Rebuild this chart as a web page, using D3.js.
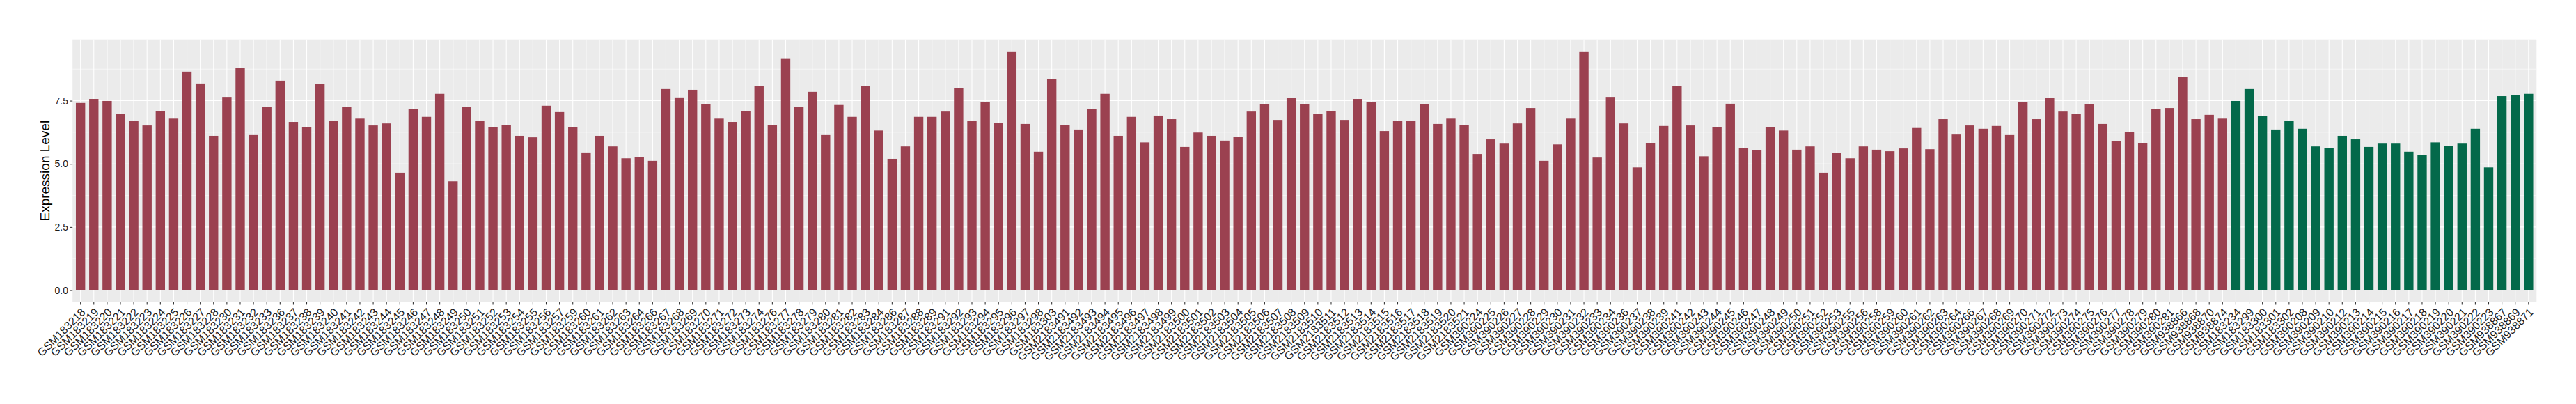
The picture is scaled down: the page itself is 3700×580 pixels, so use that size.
<!DOCTYPE html>
<html>
<head>
<meta charset="utf-8">
<script src="https://cdn.jsdelivr.net/npm/d3@7"></script>
<style>
  body { margin: 0; background: #ffffff; }
  text { font-family: "Liberation Sans", Arial, Helvetica, sans-serif; }
</style>
</head>
<body>
<svg id="chart" width="3700" height="580"></svg>
<script>
// ---------------- data ----------------
const groupASamples = [
  "GSM183218","GSM183219","GSM183220","GSM183221","GSM183222","GSM183223","GSM183224","GSM183225","GSM183226","GSM183227",
  "GSM183228","GSM183230","GSM183231","GSM183232","GSM183233","GSM183236","GSM183237","GSM183238","GSM183239","GSM183240",
  "GSM183241","GSM183242","GSM183243","GSM183244","GSM183245","GSM183246","GSM183247","GSM183248","GSM183249","GSM183250",
  "GSM183251","GSM183252","GSM183253","GSM183254","GSM183255","GSM183256","GSM183257","GSM183259","GSM183260","GSM183261",
  "GSM183262","GSM183263","GSM183264","GSM183266","GSM183267","GSM183268","GSM183269","GSM183270","GSM183271","GSM183272",
  "GSM183273","GSM183274","GSM183276","GSM183277","GSM183278","GSM183279","GSM183280","GSM183281","GSM183282","GSM183283",
  "GSM183284","GSM183286","GSM183287","GSM183288","GSM183289","GSM183291","GSM183292","GSM183293","GSM183294","GSM183295",
  "GSM183296","GSM183297","GSM183298","GSM183303",
  "GSM2183491","GSM2183492","GSM2183493","GSM2183494","GSM2183495","GSM2183496","GSM2183497","GSM2183498","GSM2183499","GSM2183500",
  "GSM2183501","GSM2183502","GSM2183503","GSM2183504","GSM2183505","GSM2183506","GSM2183507","GSM2183508","GSM2183509","GSM2183510",
  "GSM2183511","GSM2183512","GSM2183513","GSM2183514","GSM2183515","GSM2183516","GSM2183517","GSM2183518","GSM2183519","GSM2183520",
  "GSM2183521",
  "GSM390224","GSM390225","GSM390226","GSM390227","GSM390228","GSM390229","GSM390230","GSM390231","GSM390232","GSM390233",
  "GSM390234","GSM390236","GSM390237","GSM390238","GSM390239","GSM390241","GSM390242","GSM390243","GSM390244","GSM390245",
  "GSM390246","GSM390247","GSM390248","GSM390249","GSM390250","GSM390251","GSM390252","GSM390253","GSM390255","GSM390256",
  "GSM390258","GSM390259","GSM390260","GSM390261","GSM390262","GSM390263","GSM390264","GSM390266","GSM390267","GSM390268",
  "GSM390269","GSM390270","GSM390271","GSM390272","GSM390273","GSM390274","GSM390275","GSM390276","GSM390277","GSM390278",
  "GSM390279","GSM390280","GSM390281",
  "GSM938866","GSM938868","GSM938870","GSM938874"
];
const groupAValues = [
  7.41, 7.57, 7.49, 6.99, 6.69, 6.52, 7.10, 6.79, 8.65, 8.18, 6.11, 7.65, 8.79, 6.14, 7.24,
  8.29, 6.66, 6.44, 8.15, 6.69, 7.26, 6.79, 6.52, 6.60, 4.65, 7.18, 6.86, 7.77, 4.31, 7.24, 6.69, 6.44,
  6.55, 6.11, 6.05, 7.30, 7.05, 6.44, 5.45, 6.11, 5.69, 5.22, 5.28, 5.12, 7.96, 7.63, 7.93, 7.35, 6.79,
  6.66, 7.10, 8.09, 6.55, 9.18, 7.24, 7.85, 6.14, 7.33, 6.86, 8.07, 6.32, 5.20, 5.69, 6.86, 6.86, 7.07,
  8.01, 6.71, 7.44, 6.63, 9.45, 6.58, 5.48, 8.35, 6.55, 6.36, 7.16, 7.77, 6.11, 6.86, 5.85, 6.91, 6.77,
  5.67, 6.24, 6.11, 5.92, 6.08, 7.07, 7.35, 6.74, 7.60, 7.35, 6.97, 7.10, 6.74, 7.57, 7.44, 6.30,
  6.69, 6.71, 7.35, 6.58, 6.79, 6.55, 5.39, 5.97, 5.80, 6.60, 7.21, 5.12, 5.77, 6.79, 9.45, 5.25, 7.65,
  6.60, 4.86, 5.83, 6.50, 8.07, 6.52, 5.30, 6.44, 7.38, 5.64, 5.53, 6.44, 6.32, 5.56, 5.69, 4.65, 5.42,
  5.22, 5.69, 5.56, 5.50, 5.61, 6.42, 5.58, 6.77, 6.16, 6.52, 6.39, 6.50, 6.14, 7.46, 6.77, 7.60,
  7.07, 6.99, 7.35, 6.58, 5.89, 6.27, 5.83, 7.16, 7.21, 8.43, 6.77, 6.94, 6.79
];
const groupBSamples = [
  "GSM183234","GSM183299","GSM183300","GSM183301","GSM183302",
  "GSM390208","GSM390209","GSM390210","GSM390212","GSM390213","GSM390214","GSM390215","GSM390216",
  "GSM390217","GSM390218","GSM390219","GSM390220","GSM390221","GSM390222","GSM390223",
  "GSM938867","GSM938869","GSM938871"
];
const groupBValues = [
  7.49, 7.96, 6.89, 6.36, 6.71, 6.39, 5.69, 5.64, 6.11, 5.97, 5.67, 5.80,
  5.80, 5.48, 5.36, 5.85, 5.72, 5.80, 6.39, 4.86, 7.68, 7.73, 7.77
];
const groupNames = ["A", "B"];
const groupColors = ["#9B4150", "#03694A"];
const yTicks = [0, 2.5, 5.0, 7.5];
const yMinorTicks = [1.25, 3.75, 6.25, 8.75];
const yTitle = "Expression Level";

// ---------------- build ----------------
const rows = groupASamples.map((s, i) => ({ sample: s, value: groupAValues[i], group: groupNames[0] }))
  .concat(groupBSamples.map((s, i) => ({ sample: s, value: groupBValues[i], group: groupNames[1] })));

const panel = { left: 104.2, right: 3643.3, top: 56.7, bottom: 433.7 };

const svg = d3.select("#chart");

const x = d3.scaleBand()
  .domain(rows.map(d => d.sample))
  .range([panel.left, panel.right])
  .paddingInner(0.3)
  .paddingOuter(0.25);

const maxV = d3.max(rows, d => d.value);
const pad = maxV * 0.05;
const y = d3.scaleLinear()
  .domain([-pad, maxV + pad])
  .range([panel.bottom, panel.top]);

const color = d3.scaleOrdinal().domain(groupNames).range(groupColors);

// panel background
svg.append("rect")
  .attr("x", panel.left).attr("y", panel.top)
  .attr("width", panel.right - panel.left)
  .attr("height", panel.bottom - panel.top)
  .attr("fill", "#EBEBEB");

// minor horizontal gridlines
svg.append("g").selectAll("line").data(yMinorTicks).join("line")
  .attr("x1", panel.left).attr("x2", panel.right)
  .attr("y1", d => y(d)).attr("y2", d => y(d))
  .attr("stroke", "#ffffff").attr("stroke-width", 0.55);

// major horizontal gridlines
svg.append("g").selectAll("line").data(yTicks).join("line")
  .attr("x1", panel.left).attr("x2", panel.right)
  .attr("y1", d => y(d)).attr("y2", d => y(d))
  .attr("stroke", "#ffffff").attr("stroke-width", 1.1);

// vertical gridlines
svg.append("g").selectAll("line").data(rows).join("line")
  .attr("x1", d => x(d.sample) + x.bandwidth() / 2)
  .attr("x2", d => x(d.sample) + x.bandwidth() / 2)
  .attr("y1", panel.top).attr("y2", panel.bottom)
  .attr("stroke", "#ffffff").attr("stroke-width", 1.1);

// bars
svg.append("g").selectAll("rect").data(rows).join("rect")
  .attr("x", d => x(d.sample))
  .attr("width", x.bandwidth())
  .attr("y", d => y(d.value))
  .attr("height", d => y(0) - y(d.value))
  .attr("fill", d => color(d.group));

// x axis
const xAxis = svg.append("g")
  .attr("transform", `translate(0,${panel.bottom})`)
  .call(d3.axisBottom(x).tickSize(3.7).tickSizeOuter(0));
xAxis.select(".domain").remove();
xAxis.selectAll(".tick line").attr("stroke", "#333333").attr("stroke-width", 1.07);
xAxis.selectAll(".tick text")
  .attr("x", 0).attr("y", 0).attr("dy", 0)
  .attr("transform", "translate(8,15.5) rotate(-45)")
  .attr("text-anchor", "end")
  .attr("font-size", 16)
  .attr("font-family", "'Liberation Sans', Arial, sans-serif")
  .attr("fill", "#1a1a1a");

// y axis
const yAxis = svg.append("g")
  .attr("transform", `translate(${panel.left},0)`)
  .call(d3.axisLeft(y).tickValues(yTicks).tickFormat(d3.format(".1f")).tickSize(3.7).tickPadding(2.5));
yAxis.select(".domain").remove();
yAxis.selectAll(".tick line").attr("stroke", "#333333").attr("stroke-width", 1.07);
yAxis.selectAll(".tick text")
  .attr("font-size", 14)
  .attr("font-family", "'Liberation Sans', Arial, sans-serif")
  .attr("fill", "#1a1a1a");

// y title
svg.append("text")
  .attr("transform", `translate(70.5,${(panel.top + panel.bottom) / 2}) rotate(-90)`)
  .attr("text-anchor", "middle")
  .attr("font-size", 19)
  .attr("fill", "#000000")
  .text(yTitle);
</script>
</body>
</html>
